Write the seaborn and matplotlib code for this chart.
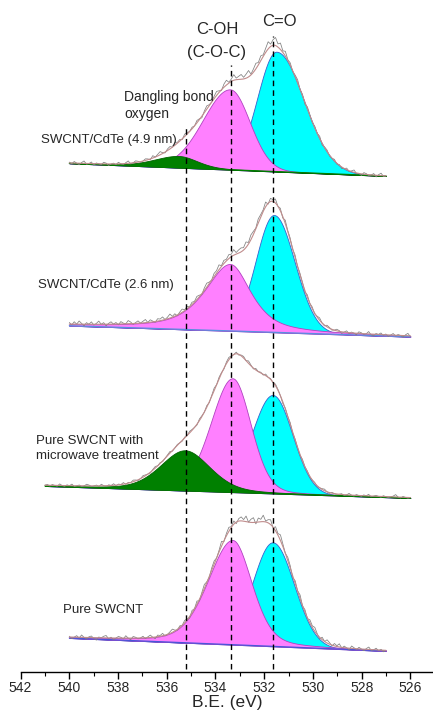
import numpy as np
import matplotlib
matplotlib.use("Agg")
import matplotlib.pyplot as plt
from matplotlib.ticker import MultipleLocator
import seaborn as sns

sns.set_theme(style="white")
plt.rcParams['font.family'] = ['Liberation Sans', 'DejaVu Sans']

# ---------------- data (spectra stacked bottom -> top) ----------------
samples = ["Pure SWCNT", "Pure SWCNT with\nmicrowave treatment",
           "SWCNT/CdTe (2.6 nm)", "SWCNT/CdTe (4.9 nm)"]

# energy range of each recorded spectrum (eV)
e_start = [540.0, 541.0, 540.0, 540.0]
e_end = [527.0, 526.0, 526.0, 527.0]

# linear background (incl. stacking offset) at the start / end energy
base_start = [34.0, 186.0, 346.3, 508.7]
base_end = [21.0, 174.0, 335.3, 496.0]

# fitted components: centre (eV), height, FWHM high-BE side, FWHM low-BE side, Lorentz fraction
co_center = [531.65, 531.65, 531.6, 531.5]      # C=O (cyan)
co_height = [104.0, 98.5, 117.3, 119.9]
co_fwhm_hi = [1.95, 2.0, 1.76, 1.85]
co_fwhm_lo = [2.05, 1.9, 2.0, 2.65]
co_eta = [0.0, 0.0, 0.0, 0.0]

coh_center = [533.3, 533.3, 533.4, 533.4]       # C-OH / C-O-C (pink)
coh_height = [104.7, 113.9, 66.9, 80.4]
coh_fwhm_hi = [2.4, 2.1, 2.5, 2.63]
coh_fwhm_lo = [1.85, 1.75, 2.0, 1.9]
coh_eta = [0.3, 0.15, 0.7, 0.05]

dang_center = [535.2, 535.25, 535.2, 535.5]     # dangling bond oxygen (green)
dang_height = [0.0, 40.3, 0.0, 11.7]
dang_fwhm_hi = [2.4, 2.4, 2.4, 2.4]
dang_fwhm_lo = [2.4, 2.4, 2.4, 1.8]
dang_eta = [0.3, 0.3, 0.3, 0.3]

# raw counts minus fit envelope (residuals), evenly spaced from e_start to e_end
resid_pure = [1, -2, 0, 2, -1, 3, 0, -2, 1, 2, -1, -3, 1, 0, 2, 3, -1, 1, -2, 0, 2, 1, -1, 3, 0, -2, 2, 1, -1, 0,
              2, -1, 1, 3, 0, -2, 2, 1, 3, -1, 0, 2, 4, 1, -1, 2, 0, 3, 1, -2,
              3, 0, 4, -2, 2, 5, 1, -1, 3, 4, 0, 2, 6, -1, 3, 5, 1, 4, -2, 3,
              5, 2, 7, 0, 4, 6, -2, 5, 3, 8, 1, 4, 6, -1, 5, 2, 7, 3, 0, 4,
              3, -2, 4, 1, 5, 0, 3, -1, 4, 2, 5, 1, -2, 3, 0, 4, 2, -1, 3, 1,
              4, -1, 2, 0, -2, 3, 1, -1, 2, 0, -2, 1, 3, -1, 0, 2, -1, 1, -2, 0]
resid_mw = [0, 1, -1, 1, 0, -1, 2, 0, -1, 1, 0, 2, -1, 0, 1, -1, 0, 2, 1, -1, 0, 1, -1, 2, 0, -1, 1, 0, 2, -1,
            1, 0, 2, -1, 1, 0, 2, 1, -1, 0, 2, 1, 0, -1, 1, 2, 0, 1, -1, 0, 1, 2, -1, 0, 1, 0, -1, 1, 0, 2,
            1, 0, -1, 2, 1, 0, 2, -1, 1, 3, 0, 2, 1, -1, 2, 3, 1, 0, 2, -1, 1, 2, 0, 3, 1, -1, 2, 0, 1, -1,
            2, 0, 1, -1, 2, 1, 0, -2, 1, 0, 2, -1, 1, 0, -1, 2, 0, 1, -1, 0, 1, -1, 0, 1, 2, 0, -1, 1, 0, -1,
            0, 1, -1, 0, 2, 0, -1, 1, 0, -1, 1, 0, 2, -1, 0, 1, 0, -1, 1, 0, -1, 0, 1, 3, 0, -1, 1, 0, -1, 0]
resid_cdte26 = [2, -1, 3, 0, 4, 1, -2, 2, 0, 3, -1, 1, 4, 0, 2, -2, 1, 3, 0, 2, -1, 3, 1, 0, 4, 2, -1, 1, 3, 0,
                2, 4, 0, 3, 1, -1, 3, 2, 4, 0, 2, 5, 1, 3, -1, 2, 4, 1, 3, 0,
                3, 1, 4, 2, -1, 3, 5, 2, 0, 4, 3, 6, 1, 4, 2, 5, 3, 7, 2, 4,
                5, 3, 7, 2, 6, 4, 1, 5, 3, 2, 6, -1, 4, 2, 5, 0, 3, -2, 4, 1,
                2, -1, 3, 0, 2, 1, -2, 3, 0, 2, -1, 1, 3, 0, -1, 2, 1, -1, 0, 2,
                1, -2, 0, 2, -1, 1, 0, -2, 2, 1, -1, 0, 3, -1, -2, 1, 0, 2, -1, 1, -2, 0, 2, -1, 1, 0, -2, 1, 3, -1]
resid_cdte49 = [1, -1, 2, 0, -2, 1, 3, -1, 0, 2, -2, 1, 0, -1, 2, 1, -2, 0, 1, -1, 2, 0, -1, 1, 3, -1, 0, 2, 1, -1,
                0, 2, 1, -1, 3, 0, 2, 4, 1, -1, 2, 3, 0, 4, 1, 2, -1, 3, 2, 0,
                2, 0, 3, 1, -2, 2, 4, 1, 0, 3, 5, 2, -1, 4, 6, 1, 3, 7, 2, 4,
                6, 2, 5, 8, 1, 4, 7, 3, 6, 2, 5, 9, 3, 7, 10, 4, 8, 2, 6, 1,
                3, -1, 2, 4, 0, 2, -2, 3, 1, -1, 2, 0, 3, -2, 1, 2, -1, 0, 2, -1,
                1, -2, 0, 2, -1, 1, 3, -1, 0, -2, 2, 1, -1, 0, 2, -2, 1, 3, -1, 0]
residuals = [resid_pure, resid_mw, resid_cdte26, resid_cdte49]

# reference binding energies (dashed lines)
ref_energy = [535.2, 533.35, 531.65]
ref_labels = ["Dangling bond\noxygen", "C-OH", "(C-O-C)", "C=O"]

# ---------------- plotting ----------------
CYAN, PINK, GREEN = "#00ffff", "#ff80ff", "#008000"


def component(x, c, h, w_hi, w_lo, eta):
    w = np.where(x >= c, w_hi, w_lo)
    d = (x - c) / w
    return h * ((1 - eta) * np.exp(-4 * np.log(2) * d ** 2) + eta / (1 + 4 * d ** 2))


def background(i, x):
    return base_end[i] + (base_start[i] - base_end[i]) * (x - e_end[i]) / (e_start[i] - e_end[i])


def envelope(i, x):
    return (background(i, x)
            + component(x, co_center[i], co_height[i], co_fwhm_hi[i], co_fwhm_lo[i], co_eta[i])
            + component(x, coh_center[i], coh_height[i], coh_fwhm_hi[i], coh_fwhm_lo[i], coh_eta[i])
            + component(x, dang_center[i], dang_height[i], dang_fwhm_hi[i], dang_fwhm_lo[i], dang_eta[i]))


fig = plt.figure(figsize=(4.33, 7.11), dpi=100)
ax = fig.add_axes([20.6 / 433, 39 / 711, 1 - 20.6 / 433, 1 - 39 / 711])

base_colors = ["#4a55d8", GREEN, "#5a8ee0", GREEN]

for i in range(4):
    x = np.linspace(e_start[i], e_end[i], 700)
    b = background(i, x)
    cy = component(x, co_center[i], co_height[i], co_fwhm_hi[i], co_fwhm_lo[i], co_eta[i])
    pk = component(x, coh_center[i], coh_height[i], coh_fwhm_hi[i], coh_fwhm_lo[i], coh_eta[i])
    gr = component(x, dang_center[i], dang_height[i], dang_fwhm_hi[i], dang_fwhm_lo[i], dang_eta[i])
    ax.fill_between(x, b, b + cy, facecolor=CYAN, edgecolor="#3a5fcd", linewidth=0.6, zorder=2)
    ax.fill_between(x, b, b + pk, facecolor=PINK, edgecolor="#b040c0", linewidth=0.6, zorder=3)
    if dang_height[i] > 0:
        ax.fill_between(x, b, b + gr, facecolor=GREEN, edgecolor="#006000", linewidth=0.6, zorder=4)
    ax.plot(x, b, color=base_colors[i], lw=0.9, zorder=5)

    xr = np.linspace(e_start[i], e_end[i], len(residuals[i]))
    yr = envelope(i, xr) + 0.8 * np.asarray(residuals[i], dtype=float)
    sns.lineplot(x=xr, y=yr, ax=ax, color="#808080", lw=0.55, sort=False, estimator=None, zorder=6)
    sns.lineplot(x=x, y=envelope(i, x), ax=ax, color="#c08c8c", lw=0.8, sort=False, estimator=None, zorder=7)

# dashed reference lines
ax.vlines(ref_energy, 3, [544, 607, 636], colors="black", linestyles=(0, (4, 3)), lw=1.0, zorder=8)

# annotations
ax.text(537.74, 566.5, ref_labels[0], fontsize=10, ha="left", va="center", linespacing=1.2, zorder=9)
ax.text(533.94, 643, ref_labels[1], fontsize=12, ha="center", va="center", zorder=9)
ax.text(533.94, 619, ref_labels[2], fontsize=12, ha="center", va="center", zorder=9)
ax.text(531.39, 650, ref_labels[3], fontsize=12, ha="center", va="center", zorder=9)

ax.text(541.16, 532, samples[3], fontsize=9.5, ha="left", va="center", zorder=9)
ax.text(541.29, 387, samples[2], fontsize=9.5, ha="left", va="center", zorder=9)
ax.text(541.37, 223.5, samples[1], fontsize=9.5, ha="left", va="center", linespacing=1.25, zorder=9)
ax.text(540.26, 62, samples[0], fontsize=9.5, ha="left", va="center", zorder=9)

# axes styling
ax.set_xlim(542, 525.07)
ax.set_ylim(0, 672)
ax.set_xticks(np.arange(542, 525, -2))
ax.xaxis.set_minor_locator(MultipleLocator(1))
ax.set_yticks([])
ax.set_ylabel("")
ax.set_xlabel("B.E. (eV)", fontsize=12.5, labelpad=0)
for s in ["left", "top", "right"]:
    ax.spines[s].set_visible(False)
ax.spines["bottom"].set_color("black")
ax.spines["bottom"].set_linewidth(1.0)
ax.tick_params(axis="x", which="major", direction="out", length=5, width=1, color="black",
               labelsize=10, pad=1.5, bottom=True)
ax.tick_params(axis="x", which="minor", direction="out", length=3, width=0.8, color="black", bottom=True)
ax.patch.set_alpha(0)

fig.savefig("out.png", dpi=100)
